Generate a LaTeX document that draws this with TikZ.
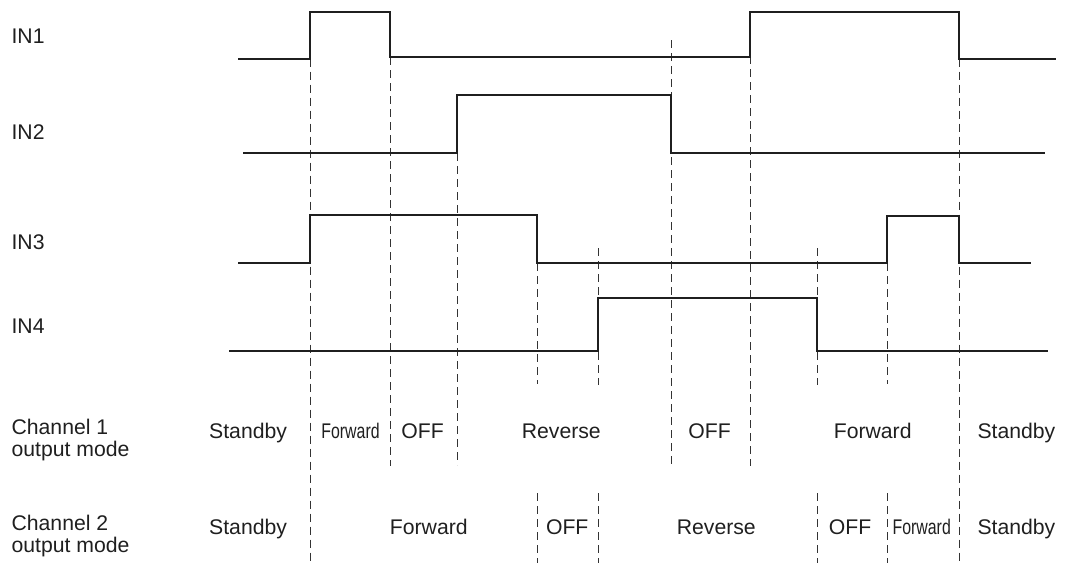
\documentclass[tikz,border=0pt]{standalone}
\usepackage{fontspec}
\setmainfont{Liberation Sans}
\usepackage{graphicx}
\usepackage{tikz}
\usetikzlibrary{positioning}

\newcommand{\narrowfwd}{\scalebox{0.75}[1]{Forward}}

\begin{document}
\begin{tikzpicture}[x=1pt, y=-1pt,
    wave/.style={line width=2.2pt, black!88},
    guide/.style={line width=1pt, black!80, dash pattern=on 8pt off 5pt},
    sig/.style={anchor=base west, inner sep=0pt, align=left, text=black!88,
        font=\fontsize{21.2}{22}\selectfont},
    mode/.style={anchor=base, inner sep=0pt, text=black!88,
        font=\fontsize{21.2}{22}\selectfont}]

    \useasboundingbox (0,0) rectangle (1066,563);

    \foreach \x/\ya/\yb in {310/58.7/563, 390/57/466, 457/153/465, 671/40/464,
        750/56/466, 959/58.7/563, 537/263/384, 598/248/385, 817/248/385, 887/263/384}
        \draw[guide] (\x,\ya) -- (\x,\yb);
    \foreach \x in {537,598,817,887}
        \draw[guide] (\x,493) -- (\x,563);

    \draw[wave] (238,58.7) -| (310,12.3) -| (390,56.7) -| (750,12.3) -| (959,58.7) -- (1056,58.7);
    \draw[wave] (243,153) -| (457,95) -| (671,153) -- (1045,153);
    \draw[wave] (238,263) -| (310,215) -| (537,263) -| (887,216) -| (959,263) -- (1031,263);
    \draw[wave] (229,351) -| (598,298) -| (817,351) -- (1048,351);

    \node[sig] (in1) at (11.4,43.3) {IN1};
    \node[sig] (in2) at (11.4,139.3) {IN2};
    \node[sig] (in3) at (11.4,249.3) {IN3};
    \node[sig] (in4) at (11.4,333) {IN4};
    \node[sig] (ch1) at (11.4,456) {Channel 1\\output mode};
    \node[sig] (ch2) at (11.4,552) {Channel 2\\output mode};

    \foreach \x/\t [count=\i] in {248.1/Standby, 350.5/\narrowfwd, 422.5/OFF, 561.3/Reverse,
        709.5/OFF, 872.7/Forward, 1016.4/Standby}
        \node[mode] (ma\i) at (\x,438.3) {\t};
    \foreach \x/\t [count=\i] in {248.1/Standby, 428.8/Forward, 567.2/OFF, 716.3/Reverse,
        850/OFF, 921.7/\narrowfwd, 1016.4/Standby}
        \node[mode] (mb\i) at (\x,534.3) {\t};

\end{tikzpicture}
\end{document}
